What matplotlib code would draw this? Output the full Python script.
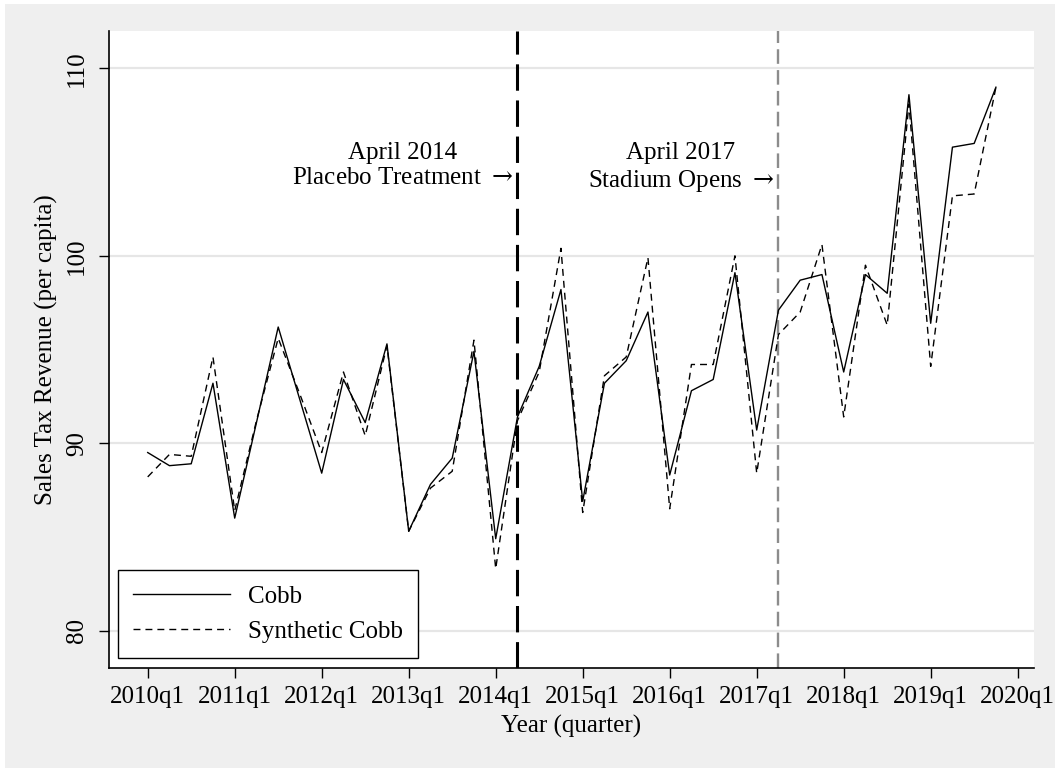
import matplotlib
matplotlib.use("Agg")
import matplotlib.pyplot as plt
from matplotlib.patches import Rectangle

# quarterly sales tax revenue per capita, 2010q1 - 2019q4
quarter_labels = ["2010q1", "2011q1", "2012q1", "2013q1", "2014q1", "2015q1",
                  "2016q1", "2017q1", "2018q1", "2019q1", "2020q1"]
cobb = [89.5, 88.8, 88.9, 93.2, 86.0, 91.1, 96.2, 92.3, 88.4, 93.4,
        91.1, 95.3, 85.3, 87.8, 89.2, 94.9, 84.9, 91.4, 94.1, 98.2,
        86.9, 93.2, 94.4, 97.0, 88.3, 92.8, 93.4, 99.1, 90.7, 97.1,
        98.7, 99.0, 93.8, 99.0, 98.0, 108.6, 96.4, 105.8, 106.0, 109.0]
synth_cobb = [88.2, 89.4, 89.3, 94.6, 86.4, 91.2, 95.6, 92.6, 89.5, 93.8,
              90.4, 95.2, 85.3, 87.6, 88.5, 95.5, 83.3, 91.2, 93.8, 100.4,
              86.3, 93.6, 94.6, 99.9, 86.5, 94.2, 94.2, 100.0, 88.4, 95.8,
              97.0, 100.6, 91.4, 99.5, 96.3, 108.1, 94.1, 103.2, 103.3, 109.0]
placebo_q = 17   # 2014q2
stadium_q = 29   # 2017q2

plt.rcParams['font.family'] = ['Liberation Serif', 'DejaVu Serif']
plt.rcParams['font.size'] = 18
plt.rcParams['mathtext.fontset'] = 'dejavuserif'
plt.rcParams['lines.scale_dashes'] = False

fig = plt.figure(figsize=(10.6, 7.72), dpi=100)
fig.patch.set_facecolor('white')
fig.patches.append(Rectangle((5 / 1060, 4 / 772), 1050 / 1060, 764 / 772,
                             transform=fig.transFigure, facecolor='#efefef',
                             edgecolor='none', zorder=-10))

ax = fig.add_axes([109 / 1060, 1 - 668 / 772, 925 / 1060, 637 / 772])
ax.set_facecolor('white')

t = list(range(len(cobb)))
ax.plot(t, cobb, color='black', lw=1.0, label='Cobb', zorder=3)
ax.plot(t, synth_cobb, color='black', lw=1.0, linestyle=(0, (5, 3.6)),
        label='Synthetic Cobb', zorder=3)

ax.axvline(placebo_q, color='black', lw=2.2, linestyle=(0, (19, 7)), zorder=2)
ax.axvline(stadium_q, color='#8c8c8c', lw=1.7, linestyle=(0, (10.5, 4.5)), zorder=2)

ax.text(placebo_q - 0.2, 106.08, "April 2014\nPlacebo Treatment $\\rightarrow$",
        ha='right', va='top', multialignment='center', linespacing=1.2)
ax.text(stadium_q - 0.2, 106.08, "April 2017\nStadium Opens $\\rightarrow$",
        ha='right', va='top', multialignment='center', linespacing=1.2)

ax.set_xlim(-1.78, 40.75)
ax.set_ylim(78, 112)
ax.set_xticks(range(0, 41, 4))
ax.set_xticklabels(quarter_labels)
ax.set_yticks([80, 90, 100, 110])
ax.set_yticklabels(['80', '90', '100', '110'], rotation=90, va='center')
ax.tick_params(axis='both', length=7, width=1.0, color='black')
ax.tick_params(axis='x', pad=6)
ax.tick_params(axis='y', pad=8)

ax.yaxis.grid(True, color='#e6e6e6', lw=1.6)
ax.set_axisbelow(True)
for side in ['top', 'right']:
    ax.spines[side].set_visible(False)
for side in ['left', 'bottom']:
    ax.spines[side].set_linewidth(1.2)

ax.set_xlabel("Year (quarter)", labelpad=5)
ax.set_ylabel("Sales Tax Revenue (per capita)", labelpad=6)

leg = ax.legend(loc='lower left', bbox_to_anchor=(0.0097, 0.0157),
                borderaxespad=0, fancybox=False, framealpha=1,
                edgecolor='black', handlelength=3.9, handletextpad=0.7,
                labelspacing=0.5, borderpad=0.6)
leg.get_frame().set_linewidth(1.0)

fig.savefig("out.png", dpi=100, facecolor=fig.get_facecolor())
